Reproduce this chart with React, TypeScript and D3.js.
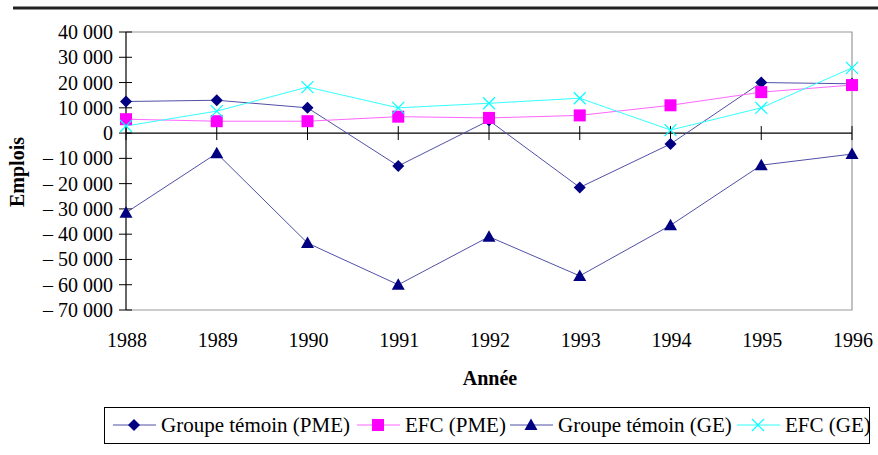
import React, { useEffect, useRef } from 'react';
import * as d3 from 'd3';

const years = ['1988', '1989', '1990', '1991', '1992', '1993', '1994', '1995', '1996'];
const temoinPME = [12500, 13000, 10000, -13000, 5000, -21500, -4300, 20000, 19500];
const efcPME = [5500, 4700, 4700, 6500, 6000, 7000, 11000, 16200, 19000];
const temoinGE = [-31500, -8000, -43500, -60000, -41000, -56500, -36500, -12700, -8300];
const efcGE = [2800, 8700, 18200, 10000, 11800, 13800, 1200, 10000, 25800];
const yTicks = [40000, 30000, 20000, 10000, 0, -10000, -20000, -30000, -40000, -50000, -60000, -70000];

const seriesList = [
    { name: 'Groupe témoin (PME)', values: temoinPME, color: '#000080', line: '#5050a8', marker: 'diamond' },
    { name: 'EFC (PME)', values: efcPME, color: '#ff00ff', line: '#ff66ff', marker: 'square' },
    { name: 'Groupe témoin (GE)', values: temoinGE, color: '#000080', line: '#5050a8', marker: 'triangle' },
    { name: 'EFC (GE)', values: efcGE, color: '#00ffff', line: '#33ffff', marker: 'cross' },
];

const font = '"Liberation Serif", "Times New Roman", serif';

function fmt(v: number) {
    const s = d3.format(',')(Math.abs(v)).replace(/,/g, ' ');
    return v < 0 ? '\u2013 ' + s : s;
}

function drawMarker(g: any, type: string, x: number, y: number, color: string) {
    if (type === 'diamond') {
        g.append('path').attr('d', `M${x},${y - 6}L${x + 6},${y}L${x},${y + 6}L${x - 6},${y}Z`).attr('fill', color);
    } else if (type === 'square') {
        g.append('rect').attr('x', x - 6).attr('y', y - 6).attr('width', 12).attr('height', 12).attr('fill', color);
    } else if (type === 'triangle') {
        g.append('path').attr('d', `M${x},${y - 6.5}L${x + 6.5},${y + 5}L${x - 6.5},${y + 5}Z`).attr('fill', color);
    } else {
        g.append('path').attr('d', `M${x - 6},${y - 6}L${x + 6},${y + 6}M${x + 6},${y - 6}L${x - 6},${y + 6}`)
            .attr('stroke', color).attr('stroke-width', 1.2);
    }
}

export default function App() {
    const ref = useRef<SVGSVGElement>(null);

    useEffect(() => {
        const svg = d3.select(ref.current);
        svg.selectAll('*').remove();

        const left = 126, right = 852, top = 32, bottom = 310;
        const x = d3.scalePoint().domain(years).range([left, right]);
        const y = d3.scaleLinear().domain([-70000, 40000]).range([bottom, top]);

        // top rule
        svg.append('line').attr('x1', 13).attr('x2', 878).attr('y1', 8).attr('y2', 8)
            .attr('stroke', '#222').attr('stroke-width', 3);

        // plot frame
        svg.append('path')
            .attr('d', `M${left},${top}H${right}V${bottom}H${left}`)
            .attr('fill', 'none').attr('stroke', '#999').attr('stroke-width', 1.2);

        // y axis
        svg.append('line').attr('x1', left).attr('x2', left).attr('y1', top).attr('y2', bottom)
            .attr('stroke', '#000').attr('stroke-width', 1.2);
        yTicks.forEach(t => {
            svg.append('line').attr('x1', left - 7).attr('x2', left + 6).attr('y1', y(t)).attr('y2', y(t))
                .attr('stroke', '#000').attr('stroke-width', 1);
            svg.append('text').attr('x', 113).attr('y', y(t)).attr('dy', '0.35em')
                .attr('text-anchor', 'end').attr('font-family', font).attr('font-size', 20)
                .text(fmt(t));
        });

        // x axis at zero
        svg.append('line').attr('x1', left).attr('x2', right).attr('y1', y(0)).attr('y2', y(0))
            .attr('stroke', '#000').attr('stroke-width', 1.2);
        years.forEach(yr => {
            svg.append('line').attr('x1', x(yr)).attr('x2', x(yr)).attr('y1', y(0) - 7).attr('y2', y(0) + 7)
                .attr('stroke', '#000').attr('stroke-width', 1);
            svg.append('text').attr('x', (x(yr) as number) + 1).attr('y', 347)
                .attr('text-anchor', 'middle').attr('font-family', font).attr('font-size', 20)
                .text(yr);
        });

        // axis titles
        svg.append('text').attr('x', 490).attr('y', 385).attr('text-anchor', 'middle')
            .attr('font-family', font).attr('font-size', 20).attr('font-weight', 'bold').text('Année');
        svg.append('text').attr('transform', 'translate(24,172) rotate(-90)').attr('text-anchor', 'middle')
            .attr('font-family', font).attr('font-size', 20).attr('font-weight', 'bold').text('Emplois');

        // series
        const line = d3.line<number>().x((_, i) => x(years[i]) as number).y(d => y(d));
        seriesList.forEach(s => {
            svg.append('path').attr('d', line(s.values)).attr('fill', 'none')
                .attr('stroke', s.line).attr('stroke-width', 1);
        });
        seriesList.forEach(s => {
            const g = svg.append('g');
            s.values.forEach((v, i) => drawMarker(g, s.marker, x(years[i]) as number, y(v), s.color));
        });

        // legend
        svg.append('rect').attr('x', 104.5).attr('y', 407.5).attr('width', 765).attr('height', 36)
            .attr('fill', '#fff').attr('stroke', '#000').attr('stroke-width', 1);
        const legendX = [113, 357, 510, 737];
        seriesList.forEach((s, i) => {
            const lx = legendX[i], ly = 425;
            const g = svg.append('g');
            g.append('line').attr('x1', lx).attr('x2', lx + 43).attr('y1', ly).attr('y2', ly)
                .attr('stroke', s.line).attr('stroke-width', 1.2);
            drawMarker(g, s.marker, lx + 21, ly, s.color);
            g.append('text').attr('x', lx + 48).attr('y', ly).attr('dy', '0.35em')
                .attr('font-family', font).attr('font-size', 21).text(s.name);
        });
    }, []);

    return (
        <div style={{ position: 'absolute', left: 0, top: 0 }}>
            <svg ref={ref} width={878} height={455} style={{ display: 'block', background: '#fff' }} />
        </div>
    );
}
